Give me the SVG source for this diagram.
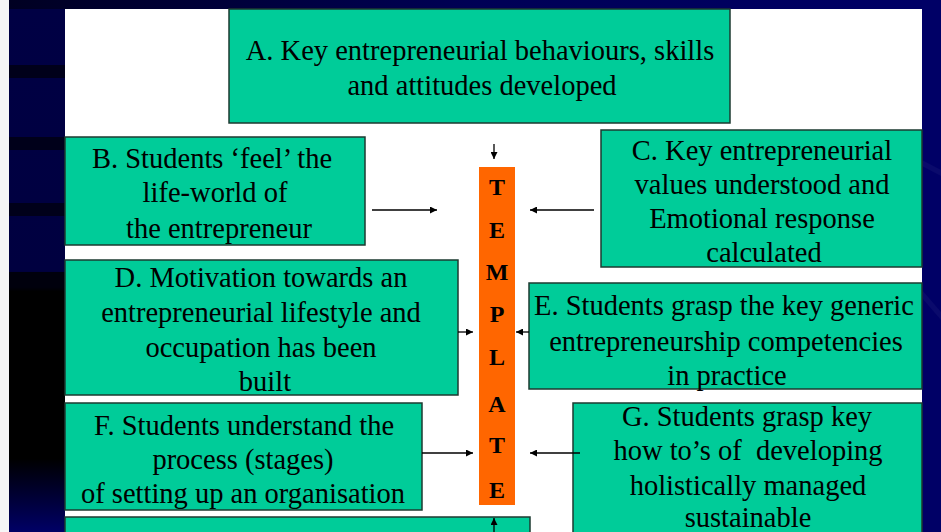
<svg xmlns="http://www.w3.org/2000/svg" width="941" height="532" viewBox="0 0 941 532">
<defs>
<linearGradient id="topg" x1="0" y1="0" x2="1" y2="0">
<stop offset="0" stop-color="#000022"/>
<stop offset="0.5" stop-color="#000055"/>
<stop offset="1" stop-color="#000066"/>
</linearGradient>
<linearGradient id="leftg" x1="0" y1="0" x2="0" y2="1">
<stop offset="0" stop-color="#000044"/>
<stop offset="0.5" stop-color="#000040"/>
<stop offset="0.54" stop-color="#000000"/>
<stop offset="0.86" stop-color="#000000"/>
<stop offset="1" stop-color="#000066"/>
</linearGradient>
<marker id="ah" viewBox="0 0 10 10" refX="10" refY="5" markerWidth="9" markerHeight="7" markerUnits="userSpaceOnUse" orient="auto">
<path d="M0,0 L10,5 L0,10 z" fill="#000"/>
</marker>
<style>
.box{fill:#00CC99;stroke:#1c3a30;stroke-width:1.5}
.t{font-family:"Liberation Serif","Times New Roman",serif;font-size:28.5px;fill:#000;text-anchor:middle;white-space:pre}
.L{font-family:"Liberation Serif","Times New Roman",serif;font-size:24px;font-weight:bold;fill:#000;text-anchor:middle}
.c{stroke:#000;stroke-width:1.3;fill:none;marker-end:url(#ah)}
</style>
</defs>
<g id="background">
<rect x="0" y="0" width="941" height="532" fill="#f6f6f6"/>
<rect x="9" y="0" width="932" height="9" fill="url(#topg)"/>
<rect x="9" y="9" width="56" height="523" fill="url(#leftg)"/>
<rect x="9" y="65" width="56" height="13" fill="#00001a"/>
<rect x="9" y="137" width="56" height="13" fill="#00001a"/>
<rect x="9" y="203" width="56" height="13" fill="#00001a"/>
<rect x="9" y="272" width="56" height="15" fill="#00000d"/>
<rect x="922" y="0" width="19" height="532" fill="#000066"/>
<path d="M922,160 L941,170 L941,176 L922,166 z" fill="#101070" opacity="0.6"/>
<path d="M922,290 L941,312 L941,320 L922,298 z" fill="#101070" opacity="0.6"/>
<rect x="65" y="9" width="857" height="523" fill="#ffffff"/>
</g>
<g id="template">
<rect x="479" y="167" width="36" height="338" fill="#FF6600"/>
<text class="L" x="497" y="195">T</text>
<text class="L" x="497" y="238">E</text>
<text class="L" x="497" y="280">M</text>
<text class="L" x="497" y="322">P</text>
<text class="L" x="497" y="365">L</text>
<text class="L" x="497" y="412">A</text>
<text class="L" x="497" y="453">T</text>
<text class="L" x="497" y="498">E</text>
</g>
<g id="nodeA">
<rect class="box" x="229" y="9" width="501" height="114"/>
<text class="t" x="480" y="60">A. Key entrepreneurial behaviours, skills</text>
<text class="t" x="482" y="95">and attitudes developed</text>
</g>
<g id="nodeB">
<rect class="box" x="65" y="137" width="300" height="108"/>
<text class="t" x="212" y="168">B. Students ‘feel’ the</text>
<text class="t" x="215" y="202">life-world of</text>
<text class="t" x="219" y="238">the entrepreneur</text>
</g>
<g id="nodeC">
<rect class="box" x="601" y="130" width="321" height="137"/>
<text class="t" x="762" y="160">C. Key entrepreneurial</text>
<text class="t" x="762" y="194">values understood and</text>
<text class="t" x="762" y="228">Emotional response</text>
<text class="t" x="764" y="262">calculated</text>
</g>
<g id="nodeD">
<rect class="box" x="65" y="260" width="393" height="135"/>
<text class="t" x="261" y="287">D. Motivation towards an</text>
<text class="t" x="261" y="322">entrepreneurial lifestyle and</text>
<text class="t" x="261" y="357">occupation has been</text>
<text class="t" x="265" y="391">built</text>
</g>
<g id="nodeE">
<rect class="box" x="529" y="283" width="393" height="106"/>
<text class="t" x="724" y="315">E. Students grasp the key generic</text>
<text class="t" x="726" y="351">entrepreneurship competencies</text>
<text class="t" x="727" y="385">in practice</text>
</g>
<g id="nodeF">
<rect class="box" x="65" y="403" width="357" height="107"/>
<text class="t" x="244" y="435">F. Students understand the</text>
<text class="t" x="243" y="469">process (stages)</text>
<text class="t" x="243" y="503">of setting up an organisation</text>
</g>
<g id="nodeG">
<rect class="box" x="573" y="403" width="349" height="135"/>
<text class="t" x="747" y="426">G. Students grasp key</text>
<text class="t" x="748" y="460">how to’s of  developing</text>
<text class="t" x="748" y="495">holistically managed</text>
<text class="t" x="748" y="527">sustainable</text>
</g>
<g id="nodeH">
<rect class="box" x="65" y="517" width="465" height="30"/>
</g>
<g id="connectors">
<line class="c" x1="494" y1="144" x2="494" y2="159"/>
<line class="c" x1="372" y1="210" x2="437" y2="210"/>
<line class="c" x1="594" y1="210" x2="530" y2="210"/>
<line class="c" x1="458" y1="332" x2="473" y2="332"/>
<line class="c" x1="529" y1="332" x2="516" y2="332"/>
<line class="c" x1="422" y1="453" x2="473" y2="453"/>
<line class="c" x1="580" y1="453" x2="530" y2="453"/>
<line class="c" x1="494" y1="532" x2="494" y2="518"/>
</g>
</svg>
